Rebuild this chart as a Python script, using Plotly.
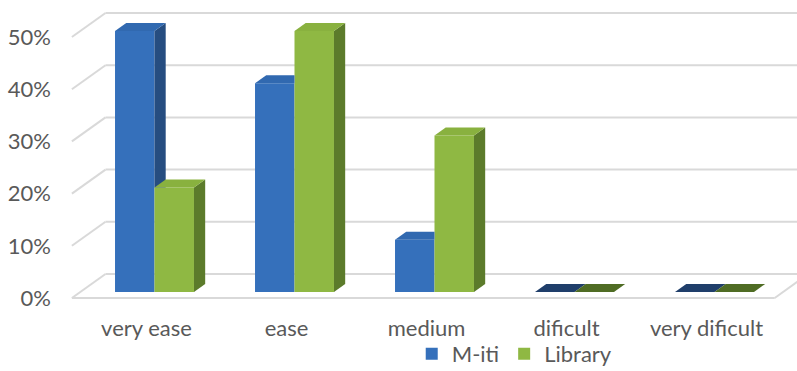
import plotly.graph_objects as go

# ---- data -------------------------------------------------------------
categories = ["very ease", "ease", "medium", "dificult", "very dificult"]
m_iti = [50, 40, 10, 0, 0]
library = [20, 50, 30, 0, 0]
y_ticks = [0, 10, 20, 30, 40, 50]

# ---- geometry of the pseudo-3D scene -----------------------------------
W, H = 797, 371
ML, MR, MT, MB = 60, 0, 0, 61
PX_X = 140.0        # pixels per category step
PX_Y = 5.22         # pixels per percentage point
X_ORIGIN = 154.5    # pixel x of the first category centre (bar front plane)
Y_ZERO = 292.0      # pixel y of 0 % on the bar front plane

plot_w = W - ML - MR
plot_h = H - MT - MB
x_range = [(ML - X_ORIGIN) / PX_X, (ML + plot_w - X_ORIGIN) / PX_X]
y_lo = -(MT + plot_h - Y_ZERO) / PX_Y
y_range = [y_lo, y_lo + plot_h / PX_Y]

# depth (in pixels of vertical lift); receding lines go up and to the right
SLANT = 1.4
Z_FRONT, Z_BAR, Z_WALL = -6.0, 8.0, 18.0
X_LO, X_HI = -0.53, 4.49
BAR_W = 0.282

BLUE_FRONT, BLUE_SIDE, BLUE_TOP = "#3570bb", "#264d80", "#3169b0"
GREEN_FRONT, GREEN_SIDE, GREEN_TOP = "#8fb843", "#5c7b2b", "#89b13f"
BLUE_FLAT, GREEN_FLAT = "#1f3e6a", "#4f6c24"
GRID = "#d9d9d9"
TEXT = "#595959"
FONT = "Lato"
FSIZE = 22


def proj(x, v, z):
    """Oblique projection of (category x, value v, depth z) into axis units."""
    return x + SLANT * z / PX_X, v + z / PX_Y


def poly(points):
    xs, ys = [], []
    for x, v, z in points:
        px, py = proj(x, v, z)
        xs.append(px)
        ys.append(py)
    xs.append(xs[0])
    ys.append(ys[0])
    return xs, ys


fig = go.Figure()

# front faces of the columns
x_idx = list(range(len(categories)))
fig.add_trace(go.Bar(x=x_idx, y=m_iti, name="M-iti", width=BAR_W, offset=-BAR_W,
                     marker=dict(color=BLUE_FRONT, line=dict(width=0))))
fig.add_trace(go.Bar(x=x_idx, y=library, name="Library", width=BAR_W, offset=0,
                     marker=dict(color=GREEN_FRONT, line=dict(width=0))))


def face(points, color):
    xs, ys = poly(points)
    fig.add_trace(go.Scatter(x=xs, y=ys, mode="lines", fill="toself",
                             fillcolor=color, line=dict(width=0, color=color),
                             showlegend=False, hoverinfo="skip"))


LIFT = Z_BAR / PX_Y      # value-units the back edge rises above the front
SHIFT = SLANT * Z_BAR / PX_X

# side and top faces; the M-iti column sits behind the Library column
for i, (b, g) in enumerate(zip(m_iti, library)):
    xl, xr = i - BAR_W, i
    # M-iti side face, only the part rising above the Library column
    if b > 0 and b > g:
        if g > 0:
            face([(xr, g, 0), (xr, b, 0), (xr, b, Z_BAR), (xr, g - LIFT, Z_BAR)], BLUE_SIDE)
        else:
            face([(xr, 0, 0), (xr, b, 0), (xr, b, Z_BAR), (xr, 0, Z_BAR)], BLUE_SIDE)
    # M-iti top face (trimmed where the Library column stands in front)
    if g > b:
        top = [(xl, b, 0), (xr, b, 0), (xr - SHIFT, b, Z_BAR), (xl, b, Z_BAR)]
    else:
        top = [(xl, b, 0), (xr, b, 0), (xr, b, Z_BAR), (xl, b, Z_BAR)]
    face(top, BLUE_TOP if b > 0 else BLUE_FLAT)

    gl, gr = i, i + BAR_W
    if g > 0:
        face([(gr, 0, 0), (gr, g, 0), (gr, g, Z_BAR), (gr, 0, Z_BAR)], GREEN_SIDE)
    face([(gl, g, 0), (gr, g, 0), (gr, g, Z_BAR), (gl, g, Z_BAR)],
         GREEN_TOP if g > 0 else GREEN_FLAT)

# back wall gridlines, left wall diagonals and the floor outline
shapes = []


def seg(p0, p1):
    x0, y0 = proj(*p0)
    x1, y1 = proj(*p1)
    shapes.append(dict(type="line", xref="x", yref="y", x0=x0, y0=y0, x1=x1, y1=y1,
                       layer="below", line=dict(color=GRID, width=2)))


for v in y_ticks:
    seg((X_LO, v, Z_WALL), (X_HI + 0.5, v, Z_WALL))
    seg((X_LO, v, Z_FRONT), (X_LO, v, Z_WALL))
seg((X_LO, 0, Z_FRONT), (X_HI, 0, Z_FRONT))
seg((X_HI, 0, Z_FRONT), (X_HI, 0, Z_WALL))

fig.update_layout(
    width=W, height=H,
    margin=dict(l=ML, r=MR, t=MT, b=MB, autoexpand=False),
    paper_bgcolor="white", plot_bgcolor="white",
    barmode="overlay",
    shapes=shapes,
    font=dict(family=FONT, size=FSIZE, color=TEXT),
    showlegend=True,
    legend=dict(orientation="h", x=0.617, xanchor="center", y=-0.142, yanchor="middle",
                bgcolor="rgba(0,0,0,0)",
                font=dict(family=FONT, size=FSIZE, color=TEXT), itemwidth=30,
                traceorder="normal"),
    xaxis=dict(range=x_range, showgrid=False, zeroline=False, showline=False,
               tickmode="array", tickvals=x_idx, ticktext=categories,
               ticks="", ticklabelshift=int(round(-SLANT * 6)), ticklabelstandoff=3,
               fixedrange=True, automargin=False),
    yaxis=dict(range=y_range, showgrid=False, zeroline=False, showline=False,
               tickmode="array", tickvals=y_ticks,
               ticktext=[f"{t}%" for t in y_ticks],
               ticks="", ticklabelshift=6, ticklabelstandoff=8,
               fixedrange=True, automargin=False),
)

fig.write_html("out.html")
